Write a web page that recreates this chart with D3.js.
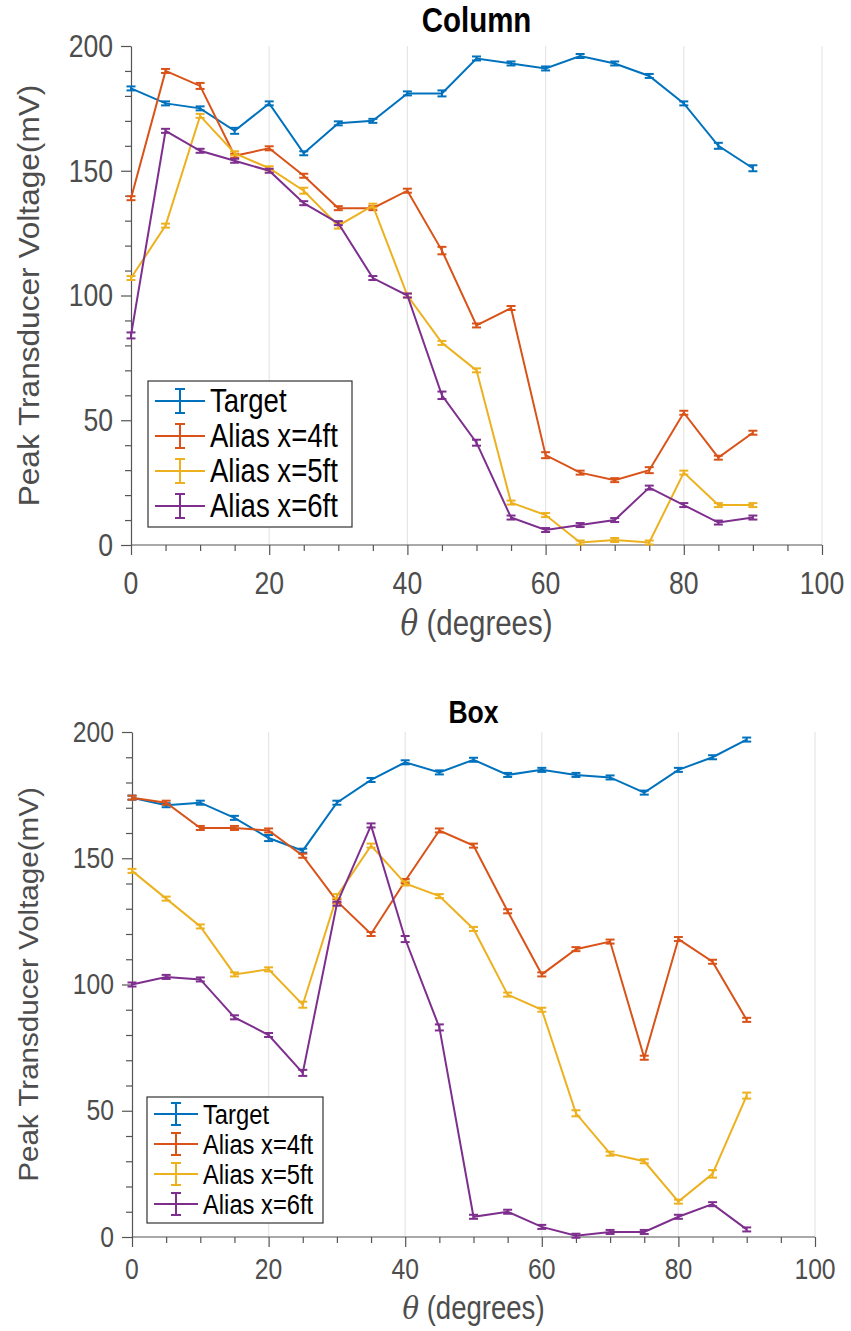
<!DOCTYPE html>
<html>
<head>
<meta charset="utf-8">
<script src="https://cdn.jsdelivr.net/npm/d3@7"></script>
<style>
body { margin: 0; background: #fff; }
text { font-family: "Liberation Sans", Arial, sans-serif; }
</style>
</head>
<body>
<div id="canvas"></div>
<script>
/**
 * Data
 */
const angles = [0, 5, 10, 15, 20, 25, 30, 35, 40, 45, 50, 55, 60, 65, 70, 75, 80, 85, 90];
const seriesNames = ["Target", "Alias x=4ft", "Alias x=5ft", "Alias x=6ft"];
const seriesColors = ["#0072BD", "#D95319", "#EDB120", "#7E2F8E"];
const xTicks = [0, 20, 40, 60, 80, 100];
const yTicks = [0, 50, 100, 150, 200];

// Column
const columnTarget = [183, 177, 175, 166, 177, 157, 169, 170, 181, 181, 195, 193, 191, 196, 193, 188, 177, 160, 151];
const columnAlias4 = [139, 190, 184, 156, 159, 148, 135, 135, 142, 118, 88, 95, 36, 29, 26, 30, 53, 35, 45];
const columnAlias5 = [107, 128, 172, 157, 151, 142, 128, 136, 100, 81, 70, 17, 12, 1, 2, 1, 29, 16, 16];
const columnAlias6 = [84, 166, 158, 154, 150, 137, 129, 107, 100, 60, 41, 11, 6, 8, 10, 23, 16, 9, 11];
const columnTargetErr = [0.8, 0.8, 0.8, 1.2, 0.8, 0.8, 0.8, 0.8, 0.8, 1.2, 0.8, 0.8, 0.8, 0.8, 0.8, 0.8, 0.8, 1.2, 1.2];
const columnAlias4Err = [0.8, 0.8, 1.2, 0.8, 0.8, 0.8, 0.8, 0.8, 0.8, 1.5, 0.8, 0.8, 1.2, 0.8, 0.8, 1.2, 0.8, 0.8, 0.8];
const columnAlias5Err = [0.8, 0.8, 0.8, 0.8, 0.8, 1.2, 1.2, 0.8, 0.8, 0.8, 0.8, 0.8, 0.8, 0.8, 0.8, 0.8, 0.8, 0.8, 0.8];
const columnAlias6Err = [1.2, 0.8, 0.8, 0.8, 0.8, 0.8, 0.8, 0.8, 0.8, 1.5, 1.2, 0.8, 0.8, 0.8, 0.8, 0.8, 0.8, 0.8, 0.8];

// Box
const boxTarget = [174, 171, 172, 166, 158, 153, 172, 181, 188, 184, 189, 183, 185, 183, 182, 176, 185, 190, 197];
const boxAlias4 = [174, 172, 162, 162, 161, 151, 133, 120, 141, 161, 155, 129, 104, 114, 117, 71, 118, 109, 86];
const boxAlias5 = [145, 134, 123, 104, 106, 92, 135, 155, 140, 135, 122, 96, 90, 49, 33, 30, 14, 25, 56];
const boxAlias6 = [100, 103, 102, 87, 80, 65, 132, 163, 118, 83, 8, 10, 4, 0.5, 2, 2, 8, 13, 3];
const boxTargetErr = [0.8, 0.8, 0.8, 0.8, 1.2, 0.8, 0.8, 0.8, 0.8, 0.8, 0.8, 0.8, 0.8, 0.8, 0.8, 0.8, 0.8, 0.8, 0.8];
const boxAlias4Err = [0.8, 0.8, 0.8, 0.8, 0.8, 0.8, 0.8, 0.8, 0.8, 0.8, 0.8, 0.8, 0.8, 0.8, 0.8, 0.8, 0.8, 0.8, 0.8];
const boxAlias5Err = [0.8, 0.8, 0.8, 0.8, 0.8, 1.2, 0.8, 0.8, 0.8, 0.8, 0.8, 0.8, 0.8, 1.2, 0.8, 0.8, 0.8, 1.5, 1.2];
const boxAlias6Err = [0.8, 0.8, 0.8, 0.8, 0.8, 1.2, 0.8, 0.8, 1.2, 1.2, 0.8, 0.8, 0.8, 0.8, 0.8, 0.8, 0.8, 0.8, 0.8];

const SY = 1.12; // text in the figure is a bit taller than wide
const SX = 0.95;

const svg = d3.select("#canvas")
    .append("svg")
    .attr("width", 851)
    .attr("height", 1331);

function putText(g, x, y, str, size, opts) {
    opts = opts || {};
    let rot = opts.rotate ? " rotate(-90)" : "";
    let sc = opts.rotate ? "scale(1.02,0.95)" : "scale(" + SX + "," + SY + ")";
    return g.append("text")
        .attr("transform", "translate(" + x + "," + y + ")" + rot + " " + sc)
        .attr("font-size", size)
        .attr("font-weight", opts.bold ? "bold" : "normal")
        .attr("fill", opts.color || "#4d4d4d")
        .attr("text-anchor", opts.anchor || "middle")
        .attr("dominant-baseline", "central")
        .text(str);
}

function drawPanel(cfg) {
    const g = svg.append("g");
    const x = d3.scaleLinear().domain([0, 100]).range([cfg.left, cfg.right]);
    const y = d3.scaleLinear().domain([0, 200]).range([cfg.bottom, cfg.top]);
    const axisColor = "#555";

    // vertical grid
    g.selectAll(".grid")
        .data(xTicks.slice(1))
        .enter()
        .append("line")
        .attr("x1", d => x(d)).attr("x2", d => x(d))
        .attr("y1", cfg.top).attr("y2", cfg.bottom)
        .attr("stroke", "#e6e6e6")
        .attr("stroke-width", 1.2);

    // axes, ticks only, labels drawn separately
    let xAxis = g.append("g")
        .attr("transform", "translate(0," + cfg.bottom + ")")
        .call(d3.axisBottom(x).tickValues(d3.range(0, 101, 5)).tickSize(8).tickFormat(""));
    xAxis.selectAll(".tick line")
        .attr("y2", d => (d % 20 === 0 ? 10 : 6));
    let yAxis = g.append("g")
        .attr("transform", "translate(" + cfg.left + ",0)")
        .call(d3.axisLeft(y).tickValues(d3.range(0, 201, 10)).tickSizeOuter(0).tickFormat(""));
    yAxis.selectAll(".tick line")
        .attr("x2", d => (d % 50 === 0 ? -10 : -6));
    xAxis.select(".domain").attr("d", "M" + cfg.left + ",0H" + cfg.right);
    [xAxis, yAxis].forEach(a => {
        a.selectAll("line, path").attr("stroke", axisColor).attr("stroke-width", 1.2);
    });

    xTicks.forEach(t => putText(g, x(t), cfg.bottom + cfg.xTickOff, t, cfg.tickSize));
    yTicks.forEach(t => putText(g, cfg.left - 18, y(t), t, cfg.tickSize, {anchor: "end"}));

    // labels and title
    let xl = g.append("text")
        .attr("transform", "translate(" + ((cfg.left + cfg.right) / 2) + "," + (cfg.bottom + cfg.xLabelOff) + ") scale(" + SX + "," + SY + ")")
        .attr("font-size", cfg.labelSize)
        .attr("fill", "#4d4d4d")
        .attr("text-anchor", "middle")
        .attr("dominant-baseline", "central");
    xl.append("tspan").attr("font-style", "italic").attr("font-family", "DejaVu Serif, serif").text("θ");
    xl.append("tspan").text(" (degrees)");
    putText(g, 28, (cfg.top + cfg.bottom) / 2, "Peak Transducer Voltage(mV)", cfg.labelSize, {rotate: true});
    putText(g, (cfg.left + cfg.right) / 2, cfg.titleY, cfg.title, cfg.titleSize, {bold: true, color: "#000"});

    // series with error bars
    const line = d3.line().x(d => x(d.a)).y(d => y(d.v));
    cfg.values.forEach((vals, i) => {
        let pts = angles.map((a, j) => ({a: a, v: vals[j], e: cfg.errors[i][j]}));
        let sg = g.append("g").attr("stroke", seriesColors[i]).attr("fill", "none").attr("stroke-width", 2);
        sg.append("path").attr("d", line(pts));
        let eb = sg.selectAll(".eb").data(pts).enter().append("g");
        eb.append("line")
            .attr("x1", d => x(d.a)).attr("x2", d => x(d.a))
            .attr("y1", d => y(d.v - d.e)).attr("y2", d => y(d.v + d.e));
        [-1, 1].forEach(s => {
            eb.append("line")
                .attr("x1", d => x(d.a) - 4.5).attr("x2", d => x(d.a) + 4.5)
                .attr("y1", d => y(d.v + s * d.e)).attr("y2", d => y(d.v + s * d.e));
        });
    });

    // legend
    const L = cfg.legend;
    g.append("rect")
        .attr("x", L.x).attr("y", L.y).attr("width", L.w).attr("height", L.h)
        .attr("fill", "#fff").attr("stroke", "#333").attr("stroke-width", 1.2);
    seriesNames.forEach((name, i) => {
        let cy = L.y + L.first + i * L.step;
        let lg = g.append("g").attr("stroke", seriesColors[i]).attr("stroke-width", 2);
        lg.append("line").attr("x1", L.x + 7).attr("x2", L.x + 7 + L.len).attr("y1", cy).attr("y2", cy);
        let cx = L.x + 7 + L.len / 2;
        lg.append("line").attr("x1", cx).attr("x2", cx).attr("y1", cy - L.bar).attr("y2", cy + L.bar);
        [-1, 1].forEach(s => lg.append("line").attr("x1", cx - 5).attr("x2", cx + 5)
            .attr("y1", cy + s * L.bar).attr("y2", cy + s * L.bar));
        putText(g, L.x + 12 + L.len, cy, name, L.font, {anchor: "start", color: "#000"});
    });
}

drawPanel({
    title: "Column", titleY: 20, titleSize: 31,
    left: 131, right: 822, top: 46, bottom: 545,
    tickSize: 28, labelSize: 31, xTickOff: 38, xLabelOff: 78,
    values: [columnTarget, columnAlias4, columnAlias5, columnAlias6],
    errors: [columnTargetErr, columnAlias4Err, columnAlias5Err, columnAlias6Err],
    legend: {x: 148, y: 381, w: 204, h: 146, first: 20, step: 35, len: 50, bar: 12, font: 29}
});

drawPanel({
    title: "Box", titleY: 712, titleSize: 28,
    left: 132, right: 815, top: 732, bottom: 1237,
    tickSize: 26, labelSize: 29, xTickOff: 32, xLabelOff: 70,
    values: [boxTarget, boxAlias4, boxAlias5, boxAlias6],
    errors: [boxTargetErr, boxAlias4Err, boxAlias5Err, boxAlias6Err],
    legend: {x: 147, y: 1097, w: 176, h: 126, first: 17, step: 30, len: 44, bar: 11, font: 25}
});
</script>
</body>
</html>
